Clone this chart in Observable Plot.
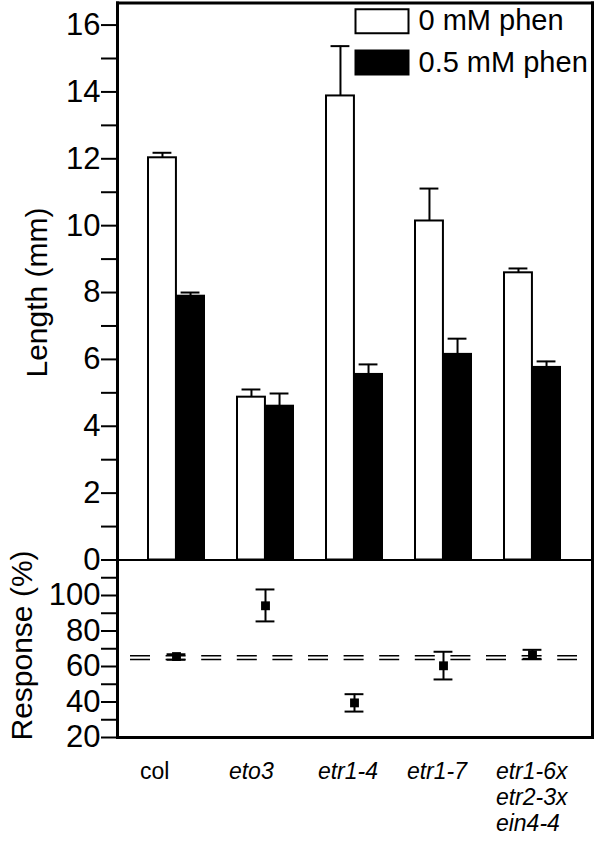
<!DOCTYPE html>
<html><head><meta charset="utf-8">
<script src="https://cdn.jsdelivr.net/npm/d3@7"></script>
<script src="https://cdn.jsdelivr.net/npm/@observablehq/plot@0.6"></script>
<style>
body{margin:0;background:#fff;}
#chart{width:600px;}
#chart svg{display:block;}
#chart svg g[aria-label="y-axis tick label"]{font-size:31px;}
</style></head><body><div id="chart"></div>
<script>
// ---- data ----
const genotypes = ["col", "eto3", "etr1-4", "etr1-7", "etr1-6x"];
const genotypeLabels = ["col", "eto3", "etr1-4", "etr1-7", "etr1-6x\netr2-3x\nein4-4"];
const treatments = ["0 mM phen", "0.5 mM phen"];
const length0 = [12.03, 4.87, 13.88, 10.14, 8.59];
const length0Upper = [12.18, 5.10, 15.37, 11.11, 8.72];
const length05 = [7.89, 4.60, 5.55, 6.15, 5.76];
const length05Upper = [8.00, 4.98, 5.85, 6.62, 5.94];
const response = [65.6, 94.2, 39.5, 60.4, 66.6];
const responseLow = [63.8, 85.4, 34.6, 52.7, 64.3];
const responseHigh = [66.9, 103.4, 44.4, 68.3, 69.4];
const controlLines = [66, 64];
const lengthTicks = d3.range(0, 17, 1);
const responseTicks = d3.range(20, 111, 10);

// ---- tables ----
const rows0 = genotypes.map((g, i) => ({g, v: length0[i], hi: length0Upper[i]}));
const rows05 = genotypes.map((g, i) => ({g, v: length05[i], hi: length05Upper[i]}));
const resp = genotypes.map((g, i) => ({g, m: response[i], lo: responseLow[i], hi: responseHigh[i]}));
const labelRows = genotypes.map((g, i) => ({g, label: genotypeLabels[i]}));

// ---- layout ----
const W = 600, mL = 117, mR = 8, pIn = 0.37, pOut = 0.35;
const step = (W - mL - mR) / (genotypes.length - pIn + 2 * pOut);
const bw = step * (1 - pIn);
const capHalf = 9.5;
const tickFont = 31;
const font = "'Liberation Sans', Arial, Helvetica, sans-serif";
const xScale = {type: "band", domain: genotypes, paddingInner: pIn, paddingOuter: pOut, axis: null};
const legendBox = {draw(ctx) { ctx.rect(-26.5, -12, 53, 24); }};

const topPlot = Plot.plot({
  width: W, height: 561, marginLeft: mL, marginRight: mR, marginTop: 2.5, marginBottom: 1.5,
  x: xScale,
  y: {domain: [0, 16.66], axis: null, label: null},
  style: {fontFamily: font, fontSize: tickFont + "px", background: "white", overflow: "visible", color: "black"},
  marks: [
    Plot.barY(rows0, {x: "g", y: "v", fill: "white", stroke: "black", strokeWidth: 2, insetRight: bw / 2}),
    Plot.barY(rows05, {x: "g", y: "v", fill: "black", stroke: "black", strokeWidth: 2, insetLeft: bw / 2}),
    Plot.ruleX(rows0, {x: "g", y1: "v", y2: "hi", dx: -bw / 4, stroke: "black", strokeWidth: 2}),
    Plot.ruleX(rows05, {x: "g", y1: "v", y2: "hi", dx: bw / 4, stroke: "black", strokeWidth: 2}),
    Plot.tickY(rows0, {x: "g", y: "hi", insetLeft: bw / 4 - capHalf, insetRight: 3 * bw / 4 - capHalf, stroke: "black", strokeWidth: 2}),
    Plot.tickY(rows05, {x: "g", y: "hi", insetLeft: 3 * bw / 4 - capHalf, insetRight: bw / 4 - capHalf, stroke: "black", strokeWidth: 2}),
    Plot.ruleY([0], {stroke: "black", strokeWidth: 2}),
    Plot.axisY({ticks: lengthTicks, tickSize: 16, tickPadding: 1, strokeWidth: 2, label: null,
      tickFormat: d => d % 2 === 0 ? String(d) : "", fontSize: tickFont}),
    Plot.frame({anchor: "left", stroke: "black", strokeWidth: 3}),
    Plot.frame({anchor: "top", stroke: "black", strokeWidth: 3}),
    Plot.frame({anchor: "right", stroke: "black", strokeWidth: 3}),
    Plot.text(["Length (mm)"], {frameAnchor: "top-left", dx: 36.5 - mL, dy: 292 - 2.5, rotate: -90,
      textAnchor: "middle", lineAnchor: "middle", fontSize: 30}),
    Plot.dot([treatments[0]], {frameAnchor: "top-left", dx: 381.5 - mL, dy: 20.7 - 2.5, symbol: legendBox,
      fill: "white", stroke: "black", strokeWidth: 2}),
    Plot.dot([treatments[1]], {frameAnchor: "top-left", dx: 381.5 - mL, dy: 62 - 2.5, symbol: legendBox,
      fill: "black", stroke: "black", strokeWidth: 2}),
    Plot.text([treatments[0]], {frameAnchor: "top-left", dx: 418 - mL, dy: 20.7 - 2.5,
      textAnchor: "start", lineAnchor: "middle", fontSize: 29}),
    Plot.text([treatments[1]], {frameAnchor: "top-left", dx: 418 - mL, dy: 62 - 2.5,
      textAnchor: "start", lineAnchor: "middle", fontSize: 29})
  ]
});

const bottomPlot = Plot.plot({
  width: W, height: 282, marginLeft: mL, marginRight: mR, marginTop: 0, marginBottom: 106,
  x: xScale,
  y: {domain: [20, 119.15], axis: null, label: null},
  style: {fontFamily: font, fontSize: tickFont + "px", background: "transparent", overflow: "visible", color: "black"},
  marks: [
    Plot.ruleY(controlLines, {insetLeft: 13, insetRight: 15, stroke: "black", strokeWidth: 1.5, strokeDasharray: "20,15.6"}),
    Plot.ruleX(resp, {x: "g", y1: "lo", y2: "hi", stroke: "black", strokeWidth: 2}),
    Plot.tickY(resp, {x: "g", y: "lo", insetLeft: bw / 2 - capHalf, insetRight: bw / 2 - capHalf, stroke: "black", strokeWidth: 2}),
    Plot.tickY(resp, {x: "g", y: "hi", insetLeft: bw / 2 - capHalf, insetRight: bw / 2 - capHalf, stroke: "black", strokeWidth: 2}),
    Plot.dot(resp, {x: "g", y: "m", symbol: "square", r: 5, fill: "black"}),
    Plot.axisY({ticks: responseTicks, tickSize: 16, tickPadding: 1, strokeWidth: 2, label: null,
      tickFormat: d => d % 20 === 0 ? String(d) : "", fontSize: tickFont}),
    Plot.frame({anchor: "left", stroke: "black", strokeWidth: 3}),
    Plot.frame({anchor: "right", stroke: "black", strokeWidth: 3}),
    Plot.frame({anchor: "bottom", stroke: "black", strokeWidth: 3}),
    Plot.text(["Response (%)"], {frameAnchor: "top-left", dx: 22 - mL, dy: 645 - 561, rotate: -90,
      textAnchor: "middle", lineAnchor: "middle", fontSize: 30}),
    Plot.text(labelRows.filter(d => d.g === "col"), {x: "g", text: "label", frameAnchor: "bottom",
      textAnchor: "start", lineAnchor: "top", dx: -bw / 2 - 8.5, dy: 23, fontSize: 23, lineHeight: 1.13}),
    Plot.text(labelRows.filter(d => d.g !== "col"), {x: "g", text: "label", frameAnchor: "bottom",
      textAnchor: "start", lineAnchor: "top", dx: -bw / 2 - 8.5, dy: 23, fontSize: 23, lineHeight: 1.13,
      fontStyle: "italic"})
  ]
});

const chart = document.getElementById("chart");
chart.appendChild(topPlot);
chart.appendChild(bottomPlot);
</script>
</body></html>
